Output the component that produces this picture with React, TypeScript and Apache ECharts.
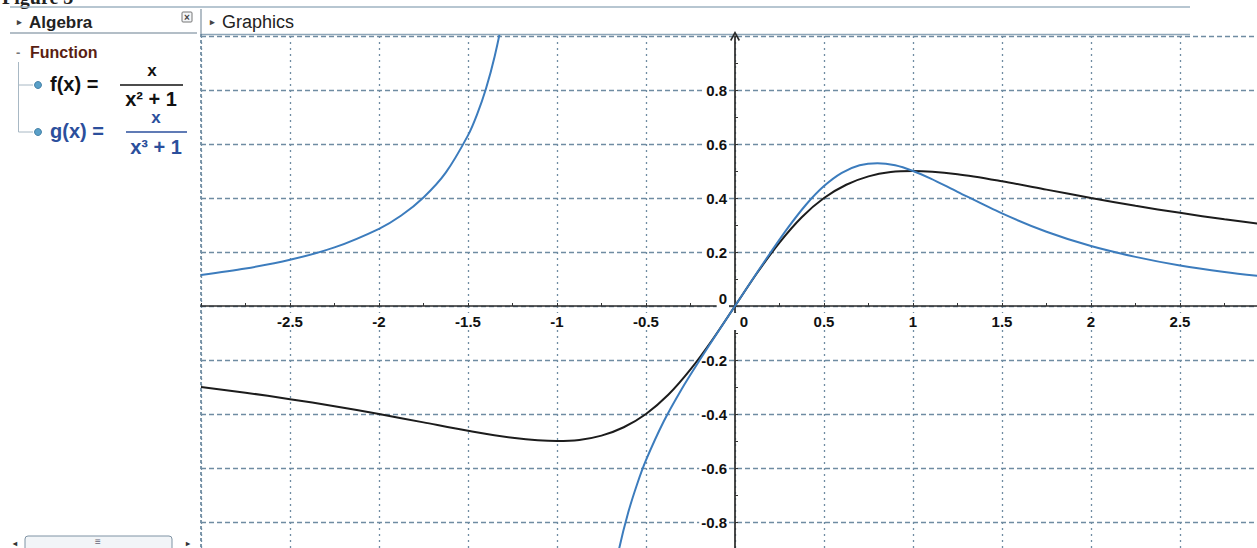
import React, { useEffect, useRef } from "react";
import * as echarts from "echarts";

// ---- data ----
const fX = [-3, -2.75, -2.5, -2.25, -2, -1.75, -1.5, -1.25, -1, -0.875, -0.75, -0.625, -0.5, -0.375, -0.25, -0.125, 0, 0.125, 0.25, 0.375, 0.5, 0.625, 0.75, 0.875, 1, 1.25, 1.5, 1.75, 2, 2.25, 2.5, 2.75, 3];
const fY = [-0.3, -0.321, -0.345, -0.371, -0.4, -0.431, -0.462, -0.488, -0.5, -0.496, -0.48, -0.449, -0.4, -0.329, -0.235, -0.123, 0, 0.123, 0.235, 0.329, 0.4, 0.449, 0.48, 0.496, 0.5, 0.488, 0.462, 0.431, 0.4, 0.371, 0.345, 0.321, 0.3];

const gLeftX = [-3, -2.75, -2.5, -2.25, -2, -1.875, -1.75, -1.625, -1.5, -1.45, -1.4, -1.35, -1.3, -1.25];
const gLeftY = [0.115, 0.139, 0.171, 0.217, 0.286, 0.335, 0.402, 0.494, 0.632, 0.708, 0.803, 0.925, 1.086, 1.312];

const gRightX = [-0.7, -0.65, -0.6, -0.55, -0.5, -0.4, -0.3, -0.2, -0.1, 0, 0.1, 0.2, 0.3, 0.4, 0.5, 0.6, 0.7, 0.8, 0.9, 1, 1.1, 1.25, 1.5, 1.75, 2, 2.25, 2.5, 2.75, 3];
const gRightY = [-1.065, -0.896, -0.765, -0.66, -0.571, -0.427, -0.308, -0.202, -0.1, 0, 0.1, 0.198, 0.292, 0.376, 0.444, 0.493, 0.521, 0.529, 0.521, 0.5, 0.472, 0.423, 0.343, 0.275, 0.222, 0.182, 0.15, 0.126, 0.107];

const X_RANGE = [-3, 3];
const Y_RANGE = [-1, 1];
const X_STEP = 0.5;
const Y_STEP = 0.2;

const PANEL_ALGEBRA = "Algebra";
const PANEL_GRAPHICS = "Graphics";
const GROUP_NAME = "Function";
const CAPTION = "Figure 3";

// layout (pixels per unit as in the screenshot)
const GRID_LEFT = 201;
const GRID_TOP = 36;
const PX_PER_X = 178;
const PX_PER_Y = 270;

const FONT = "Liberation Sans";
const GRID_COLOR = "#6f8ca2";
const F_COLOR = "#1c1c1c";
const G_COLOR = "#3c7cbd";

function zip(xs: number[], ys: number[]) {
  return xs.map((x, i) => [x, ys[i]]);
}

function fmt(v: number) {
  return String(Number(v.toFixed(2)));
}

export default function App() {
  const ref = useRef<HTMLDivElement>(null);

  useEffect(() => {
    if (!ref.current) return;
    const chart = echarts.init(ref.current, null, { renderer: "svg" });

    const labelStyle = {
      fontFamily: FONT,
      fontWeight: "bold" as const,
      fontSize: 15,
      color: "#111",
    };

    const txt = (x: number, y: number, text: string, opts: any = {}) => ({
      type: "text",
      x,
      y,
      silent: true,
      style: {
        text,
        fontFamily: opts.family || FONT,
        fontSize: opts.size || 14,
        fontWeight: opts.weight || "bold",
        fill: opts.fill || "#222",
        align: opts.align || "left",
        verticalAlign: opts.valign || "middle",
      },
    });
    const ln = (x1: number, y1: number, x2: number, y2: number, stroke: string, lineWidth = 1, lineDash?: number[]) => ({
      type: "line",
      silent: true,
      shape: { x1, y1, x2, y2 },
      style: { stroke, lineWidth, lineDash },
    });

    const graphic: any[] = [
      // caption cut off at the top
      txt(2, -3, CAPTION, { family: "Liberation Serif", size: 20 }),
      ln(10, 7, 1190, 7, "#9fb3c2", 1.5),
      // algebra header
      txt(17, 22, "▸", { size: 9, fill: "#444" }),
      txt(29, 22, PANEL_ALGEBRA, { size: 17, fill: "#222" }),
      {
        type: "rect",
        silent: true,
        shape: { x: 182, y: 12, width: 10, height: 10, r: 1 },
        style: { fill: "#f4f6f8", stroke: "#777", lineWidth: 1 },
      },
      txt(187, 17, "×", { size: 10, align: "center", fill: "#444" }),
      ln(10, 33, 197, 33, "#9aa8b4", 1.5),
      // graphics header
      ln(201, 9, 201, 34, "#9aa8b4", 1.5),
      txt(210, 22, "▸", { size: 9, fill: "#444" }),
      txt(222, 22, PANEL_GRAPHICS, { size: 18, fill: "#222", weight: "normal" }),
      ln(201, 34.5, 1190, 34.5, "#8ea6b8", 1.5),
      ln(201, 34, 201, 548, "#5f7f97", 1.6, [3, 3]),
      // function group
      txt(16, 52, "-", { size: 13, fill: "#777" }),
      txt(30, 52, GROUP_NAME, { size: 16, fill: "#5a1e12" }),
      ln(18.5, 62, 18.5, 132, "#a8b8c4", 1),
      ln(18.5, 85, 33, 85, "#a8b8c4", 1),
      ln(18.5, 132, 33, 132, "#a8b8c4", 1),
      {
        type: "circle",
        silent: true,
        shape: { cx: 38, cy: 85, r: 3.5 },
        style: { fill: "#5aa0c8", stroke: "#2f6f98", lineWidth: 0.8 },
      },
      {
        type: "circle",
        silent: true,
        shape: { cx: 38, cy: 132, r: 3.5 },
        style: { fill: "#5aa0c8", stroke: "#2f6f98", lineWidth: 0.8 },
      },
      // f(x) = x / (x² + 1)
      txt(50, 84, "f(x) =", { size: 20, fill: "#111" }),
      txt(152, 70, "x", { size: 17, fill: "#111", align: "center" }),
      ln(120, 85, 183, 85, "#111", 1.6),
      txt(151, 99, "x² + 1", { size: 20, fill: "#111", align: "center" }),
      // g(x) = x / (x³ + 1)
      txt(50, 131, "g(x) =", { size: 20, fill: "#2b4f9c" }),
      txt(156, 117, "x", { size: 17, fill: "#2b4f9c", align: "center" }),
      ln(126, 132, 187, 132, "#2b4f9c", 1.6),
      txt(156, 147, "x³ + 1", { size: 20, fill: "#2b4f9c", align: "center" }),
      // scrollbar
      {
        type: "rect",
        silent: true,
        shape: { x: 25, y: 536, width: 147, height: 16, r: 3 },
        style: { fill: "#f2f5f8", stroke: "#7f93a4", lineWidth: 1 },
      },
      txt(98, 541, "≡", { size: 10, fill: "#667", align: "center", weight: "normal" }),
      txt(15, 543, "◂", { size: 8, fill: "#333", align: "center" }),
      txt(188, 543, "▸", { size: 8, fill: "#333", align: "center" }),
    ];

    const arrow = "path://M5,0 L10,9 L8.6,10 L5,3.2 L1.4,10 L0,9 Z";

    // move each axis from the grid edge onto the other axis' zero
    const xAxisOffset = -(0 - Y_RANGE[0]) * PX_PER_Y;
    const yAxisOffset = -(0 - X_RANGE[0]) * PX_PER_X;

    chart.setOption({
      animation: false,
      backgroundColor: "#ffffff",
      grid: {
        left: GRID_LEFT,
        top: GRID_TOP,
        width: (X_RANGE[1] - X_RANGE[0]) * PX_PER_X,
        height: (Y_RANGE[1] - Y_RANGE[0]) * PX_PER_Y,
        containLabel: false,
        outerBoundsMode: "none",
      },
      xAxis: {
        type: "value",
        position: "bottom",
        offset: xAxisOffset,
        min: X_RANGE[0],
        max: X_RANGE[1],
        interval: X_STEP,
        axisLine: {
          onZero: false,
          lineStyle: { color: "#2a2a2a", width: 1.7 },
          symbol: ["none", arrow],
          symbolSize: [10, 11],
        },
        axisTick: { show: true, length: 3, inside: true, lineStyle: { color: "#333" } },
        minorTick: { show: true, splitNumber: 2, length: 3, lineStyle: { color: "#333" } },
        axisLabel: {
          ...labelStyle,
          margin: 7,
          padding: [1, 2],
          backgroundColor: "#ffffff",
          showMinLabel: false,
          showMaxLabel: false,
          hideOverlap: false,
          formatter: (v: number) => {
            if (Math.abs(v) < 1e-9) return "{z|0}";
            if (v <= X_RANGE[0] + 1e-9 || v >= X_RANGE[1] - 1e-9) return "";
            return fmt(v);
          },
          rich: { z: { ...labelStyle, padding: [0, 0, 0, 18] } },
        },
        splitLine: { show: true, lineStyle: { color: GRID_COLOR, width: 1.3, type: [2, 4] } },
      },
      yAxis: {
        type: "value",
        position: "left",
        offset: yAxisOffset,
        min: Y_RANGE[0],
        max: Y_RANGE[1],
        interval: Y_STEP,
        axisLine: {
          onZero: false,
          lineStyle: { color: "#2a2a2a", width: 1.7 },
          symbol: ["none", arrow],
          symbolSize: [10, 11],
        },
        axisTick: { show: true, length: 3, inside: true, lineStyle: { color: "#333" } },
        minorTick: { show: true, splitNumber: 2, length: 3, lineStyle: { color: "#333" } },
        axisLabel: {
          ...labelStyle,
          margin: 6,
          padding: [1, 2],
          backgroundColor: "#ffffff",
          hideOverlap: false,
          formatter: (v: number) => {
            if (Math.abs(v) < 1e-9) return "{z|0}";
            if (v <= Y_RANGE[0] + 1e-9 || v >= Y_RANGE[1] - 1e-9) return "";
            return fmt(v);
          },
          rich: { z: { ...labelStyle, padding: [0, 0, 16, 0] } },
        },
        splitLine: { show: true, lineStyle: { color: GRID_COLOR, width: 1.3, type: [5, 3] } },
      },
      series: [
        {
          name: "f",
          type: "line",
          data: zip(fX, fY),
          showSymbol: false,
          smooth: 0.3,
          clip: true,
          lineStyle: { color: F_COLOR, width: 2 },
          z: 3,
        },
        {
          name: "g left",
          type: "line",
          data: zip(gLeftX, gLeftY),
          showSymbol: false,
          smooth: 0.3,
          clip: true,
          lineStyle: { color: G_COLOR, width: 2 },
          z: 4,
        },
        {
          name: "g right",
          type: "line",
          data: zip(gRightX, gRightY),
          showSymbol: false,
          smooth: 0.3,
          clip: true,
          lineStyle: { color: G_COLOR, width: 2 },
          z: 4,
        },
      ],
      graphic,
    });

    return () => chart.dispose();
  }, []);

  return (
    <div
      ref={ref}
      style={{ position: "fixed", left: 0, top: 0, width: 1257, height: 548, background: "#fff" }}
    />
  );
}
